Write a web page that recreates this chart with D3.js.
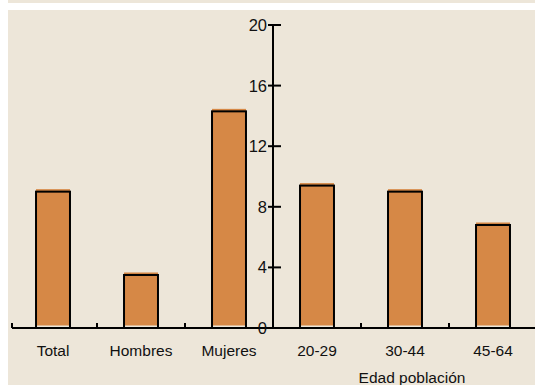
<!DOCTYPE html>
<html>
<head>
<meta charset="utf-8">
<script src="https://cdn.jsdelivr.net/npm/d3@7"></script>
<style>
  html, body { margin: 0; padding: 0; background: #ffffff; }
  svg { display: block; }
  text { font-family: "Liberation Sans", Arial, sans-serif; fill: #111; }
</style>
</head>
<body>
<svg id="chart" width="535" height="385"></svg>
<script>
// Categories and values (%)
const categories = ["Total", "Hombres", "Mujeres", "20-29", "30-44", "45-64"];
const values = [9.0, 3.5, 14.3, 9.4, 9.0, 6.8];
const yTicks = [0, 4, 8, 12, 16, 20];
const xTitle = "Edad población";

const W = 535, H = 385;
const bg = "#ede6d9";
const barFill = "#d68846";

const svg = d3.select("#chart");

// Background panels: thin band on top, white stripe, then main panel
svg.append("rect").attr("x", 8).attr("y", 0).attr("width", W - 8).attr("height", 3).attr("fill", bg);
svg.append("rect").attr("x", 8).attr("y", 10).attr("width", W - 8).attr("height", H - 10).attr("fill", bg);

const x = d3.scaleBand()
  .domain(categories)
  .range([9, 537])
  .paddingInner(0.614)
  .paddingOuter(0.307);

const y = d3.scaleLinear().domain([0, 20]).range([328, 25]);

const data = categories.map((c, i) => ({ cat: c, value: values[i] }));

// Bar fill, slightly offset above the outline
svg.append("g").selectAll("rect.fill")
  .data(data)
  .join("rect")
  .attr("class", "fill")
  .attr("x", d => x(d.cat))
  .attr("y", d => y(d.value) - 2.5)
  .attr("width", x.bandwidth())
  .attr("height", d => y(0) - y(d.value))
  .attr("fill", barFill);

// Bar outlines
svg.append("g").selectAll("rect.outline")
  .data(data)
  .join("rect")
  .attr("class", "outline")
  .attr("x", d => x(d.cat))
  .attr("y", d => y(d.value))
  .attr("width", x.bandwidth())
  .attr("height", d => y(0) - y(d.value))
  .attr("fill", "none")
  .attr("stroke", "#000")
  .attr("stroke-width", 2);

// X axis baseline with small upward ticks at category boundaries
const step = x.step();
const x0 = x.range()[0];
const boundaries = d3.range(categories.length).map(i => x0 + i * step);
const xAxis = svg.append("g");
xAxis.append("line")
  .attr("x1", x0 + 3).attr("x2", W)
  .attr("y1", y(0)).attr("y2", y(0))
  .attr("stroke", "#000").attr("stroke-width", 2);
xAxis.selectAll("line.tick")
  .data(boundaries)
  .join("line")
  .attr("class", "tick")
  .attr("x1", (d, i) => i === 0 ? d + 3 : d)
  .attr("x2", (d, i) => i === 0 ? d + 3 : d)
  .attr("y1", y(0)).attr("y2", y(0) - 5)
  .attr("stroke", "#000").attr("stroke-width", 2);

// Category labels
xAxis.selectAll("text.cat")
  .data(categories)
  .join("text")
  .attr("class", "cat")
  .attr("x", d => x(d) + x.bandwidth() / 2)
  .attr("y", 356)
  .attr("text-anchor", "middle")
  .attr("font-size", 15.5)
  .text(d => d);

// X axis title
svg.append("text")
  .attr("x", 412)
  .attr("y", 383)
  .attr("text-anchor", "middle")
  .attr("font-size", 15.5)
  .text(xTitle);

// Y axis in the middle of the chart
const axisX = boundaries[3];
const yAxis = svg.append("g").attr("transform", `translate(${axisX},0)`);
yAxis.append("line")
  .attr("x1", 0).attr("x2", 0)
  .attr("y1", y(20)).attr("y2", y(0))
  .attr("stroke", "#000").attr("stroke-width", 2);
yAxis.selectAll("line.ytick")
  .data(yTicks)
  .join("line")
  .attr("class", "ytick")
  .attr("x1", -5).attr("x2", 8)
  .attr("y1", d => y(d)).attr("y2", d => y(d))
  .attr("stroke", "#000").attr("stroke-width", 2);
yAxis.selectAll("text.ylab")
  .data(yTicks)
  .join("text")
  .attr("class", "ylab")
  .attr("x", -6)
  .attr("y", d => y(d))
  .attr("dy", "0.36em")
  .attr("text-anchor", "end")
  .attr("font-size", 16.5)
  .text(d => d);
</script>
</body>
</html>
